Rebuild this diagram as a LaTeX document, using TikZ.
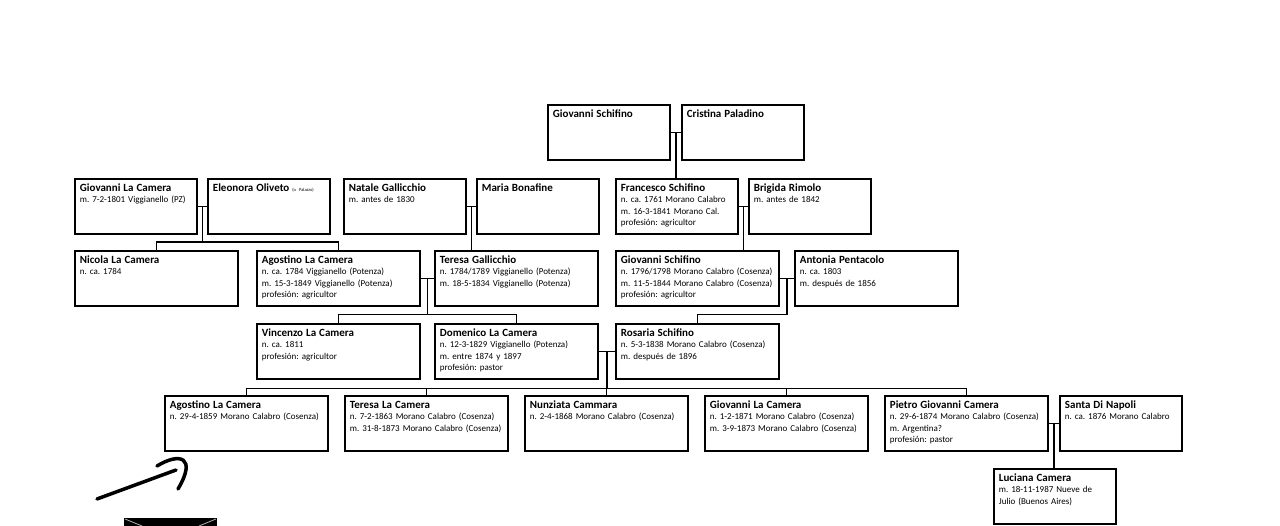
\documentclass[tikz,border=0pt]{standalone}
\usepackage{fontspec}
\setmainfont{Carlito}
\usetikzlibrary{positioning,calc}
\frenchspacing
\newcommand{\nm}[1]{{\fontsize{11}{11.5}\selectfont\bfseries #1}}

\begin{document}
\begin{tikzpicture}[
  x=1pt,y=-1pt,
  person/.style={draw,line width=1.8pt,anchor=north west,align=left,
    inner xsep=5pt,inner ysep=3.5pt,text height=9pt,text depth=39pt,
    font=\fontsize{9}{11.5}\selectfont},
  wide/.style={person,text width=153pt},
  narrow/.style={person,text width=112pt},
  link/.style={line width=1.4pt}
]
  \useasboundingbox (0,0) rectangle (1280,526);
  \node[narrow] (gschifino) at (547,104) {\nm{Giovanni Schifino}};
  \node[narrow] (cpaladino) at (681,104) {\nm{Cristina Paladino}};
  \node[narrow] (glacamera) at (74,178)
    {\nm{Giovanni La Camera}\\m. 7-2-1801 Viggianello (PZ)};
  \node[narrow] (eoliveto) at (207,178)
    {\nm{Eleonora Oliveto} {\fontsize{4.5}{5}\selectfont (o Palazzo)}};
  \node[narrow] (ngallicchio) at (343,178)
    {\nm{Natale Gallicchio}\\m. antes de 1830};
  \node[narrow] (mbonafine) at (476,178) {\nm{Maria Bonafine}};
  \node[narrow] (fschifino) at (615,178)
    {\nm{Francesco Schifino}\\n. ca. 1761 Morano Calabro\\m. 16-3-1841 Morano Cal.\\profesión: agricultor};
  \node[narrow] (brimolo) at (748,178)
    {\nm{Brigida Rimolo}\\m. antes de 1842};
  \node[wide] (nlacamera) at (74,250) {\nm{Nicola La Camera}\\n. ca. 1784};
  \node[wide] (alacamera) at (256,250)
    {\nm{Agostino La Camera}\\n. ca. 1784 Viggianello (Potenza)\\m. 15-3-1849 Viggianello (Potenza)\\profesión: agricultor};
  \node[wide] (tgallicchio) at (434,250)
    {\nm{Teresa Gallicchio}\\n. 1784/1789 Viggianello (Potenza)\\m. 18-5-1834 Viggianello (Potenza)};
  \node[wide] (gschifino2) at (615,250)
    {\nm{Giovanni Schifino}\\n. 1796/1798 Morano Calabro (Cosenza)\\m. 11-5-1844 Morano Calabro (Cosenza)\\profesión: agricultor};
  \node[wide] (apentacolo) at (794,250)
    {\nm{Antonia Pentacolo}\\n. ca. 1803\\m. después de 1856};
  \node[wide] (vlacamera) at (256,323)
    {\nm{Vincenzo La Camera}\\n. ca. 1811\\profesión: agricultor};
  \node[wide] (dlacamera) at (434,323)
    {\nm{Domenico La Camera}\\n. 12-3-1829 Viggianello (Potenza)\\m. entre 1874 y 1897\\profesión: pastor};
  \node[wide] (rschifino) at (615,323)
    {\nm{Rosaria Schifino}\\n. 5-3-1838 Morano Calabro (Cosenza)\\m. después de 1896};
  \node[wide] (alacamera2) at (164,395)
    {\nm{Agostino La Camera}\\n. 29-4-1859 Morano Calabro (Cosenza)};
  \node[wide] (tlacamera) at (344,395)
    {\nm{Teresa La Camera}\\n. 7-2-1863 Morano Calabro (Cosenza)\\m. 31-8-1873 Morano Calabro (Cosenza)};
  \node[wide] (ncammara) at (524,395)
    {\nm{Nunziata Cammara}\\n. 2-4-1868 Morano Calabro (Cosenza)};
  \node[wide] (glacamera2) at (704,395)
    {\nm{Giovanni La Camera}\\n. 1-2-1871 Morano Calabro (Cosenza)\\m. 3-9-1873 Morano Calabro (Cosenza)};
  \node[wide] (pcamera) at (884,395)
    {\nm{Pietro Giovanni Camera}\\n. 29-6-1874 Morano Calabro (Cosenza)\\m. Argentina?\\profesión: pastor};
  \node[narrow] (sdinapoli) at (1059,395)
    {\nm{Santa Di Napoli}\\n. ca. 1876 Morano Calabro};
  \node[narrow] (lcamera) at (993,468)
    {\nm{Luciana Camera}\\m. 18-11-1987 Nueve de\\Julio (Buenos Aires)};
  % parejas y descendencia
  \coordinate (c1) at ($(gschifino.east)!.5!(cpaladino.west)$);
  \coordinate (c2) at ($(glacamera.east)!.5!(eoliveto.west)$);
  \coordinate (c3) at ($(ngallicchio.east)!.5!(mbonafine.west)$);
  \coordinate (c4) at ($(fschifino.east)!.5!(brimolo.west)$);
  \coordinate (c5) at ($(alacamera.east)!.5!(tgallicchio.west)$);
  \coordinate (c6) at ($(gschifino2.east)!.5!(apentacolo.west)$);
  \coordinate (c7) at ($(dlacamera.east)!.5!(rschifino.west)$);
  \coordinate (c8) at ($(pcamera.east)!.5!(sdinapoli.west)$);
  \coordinate (b2) at ($(c2)+(0,35.5)$);
  \coordinate (b5) at ($(c5)+(0,36)$);
  \coordinate (b6) at ($(c6)+(0,36)$);
  \coordinate (b7) at ($(c7)+(0,37)$);
  \draw[link] (gschifino) -- (cpaladino);
  \draw[link] (c1) -- (c1 |- fschifino.north);
  \draw[link] (glacamera) -- (eoliveto);
  \draw[link] (c2) -- (b2);
  \draw[link] (nlacamera.north) |- (b2) -| (alacamera.north);
  \draw[link] (ngallicchio) -- (mbonafine);
  \draw[link] (c3) -- (c3 |- tgallicchio.north);
  \draw[link] (fschifino) -- (brimolo);
  \draw[link] (c4) -- (c4 |- gschifino2.north);
  \draw[link] (alacamera) -- (tgallicchio);
  \draw[link] (c5) -- (b5);
  \draw[link] (vlacamera.north) |- (b5) -| (dlacamera.north);
  \draw[link] (gschifino2) -- (apentacolo);
  \draw[link] (c6) -- (b6) -| (rschifino.north);
  \draw[link] (dlacamera) -- (rschifino);
  \draw[link] (c7) -- (b7);
  \draw[link] (alacamera2.north) |- (b7) -| (pcamera.north);
  \draw[link] (b7 -| tlacamera.north) -- (tlacamera.north);
  \draw[link] (b7 -| ncammara.north) -- (ncammara.north);
  \draw[link] (b7 -| glacamera2.north) -- (glacamera2.north);
  \draw[link] (pcamera) -- (sdinapoli);
  \draw[link] (c8) -- (c8 |- lcamera.north);
  % trazo y sobre abajo a la izquierda
  \draw[line width=3.5pt,line cap=round] (97,499) -- (176,470);
  \draw[line width=3.5pt,line cap=round] (157,466) .. controls (180,452) and (197,457) .. (178,489);
  \fill (124,518) rectangle (217,526);
  \draw[gray!60,line width=0.8pt] (125,519) -- (142,526) (216,519) -- (199,526);
\end{tikzpicture}
\end{document}
